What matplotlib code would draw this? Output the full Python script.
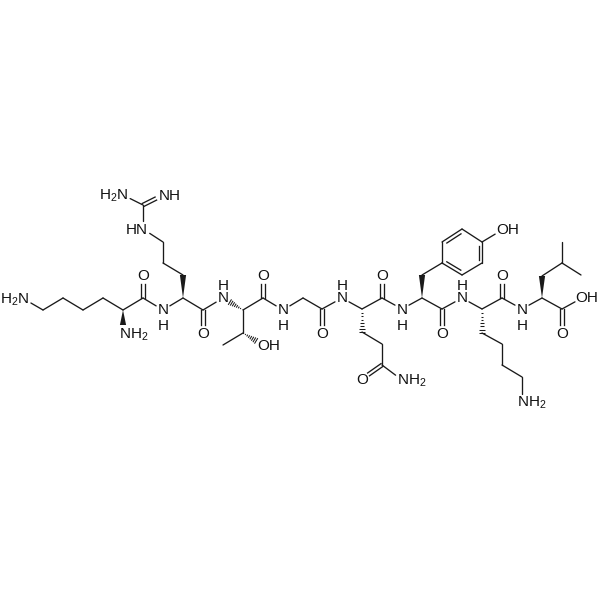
"""
Peptide structure drawing (KRTGQYKL), atoms placed in image pixel coordinates.
"""
import numpy as np
import matplotlib
matplotlib.use("Agg")
import matplotlib.pyplot as plt
from matplotlib.patches import Polygon

plt.rcParams["font.family"] = ["Liberation Sans", "DejaVu Sans"]
plt.rcParams["mathtext.fontset"] = "custom"
plt.rcParams["mathtext.rm"] = "Liberation Sans"
plt.rcParams["mathtext.default"] = "rm"

# atom positions
atom_x = [24, 43, 63, 83, 103, 123, 123, 143, 143, 163, 183, 183, 163, 163, 143, 143, 163, 123,
          203, 203, 223, 243, 263, 263, 283, 243, 223, 263,
          303, 322, 322, 342, 362, 362, 382, 382, 362, 402, 382, 382,
          402, 422, 422, 442, 442, 462, 482, 482, 462, 502,
          442, 442, 462, 482, 482, 502, 502, 522, 522,
          502, 502, 522, 542, 542, 562, 562, 581, 562, 562, 582]
atom_y = [299, 310, 298, 310, 298, 310, 333, 298, 276, 310, 298, 275, 263, 242, 229, 205, 195, 195,
          310, 333, 298, 310, 298, 276, 310, 333, 345, 345,
          298, 309, 333, 298, 309, 332, 344, 365, 379, 380, 298, 276,
          309, 298, 275, 263, 242, 229, 242, 263, 275, 230,
          309, 333, 298, 309, 333, 344, 365, 377, 402,
          298, 276, 309, 298, 276, 263, 242, 275, 309, 333, 298]
hetero = [0, 6, 8, 9, 14, 16, 17, 19, 20, 23, 24, 27, 30, 31, 36, 37, 39, 40, 49, 51, 52,
          58, 60, 61, 68, 69]

bond_a = [0, 1, 2, 3, 4, 5, 5, 7, 7, 9, 10, 11, 12, 13, 14, 15, 15, 10, 18, 18, 21, 21, 22, 22,
          24, 21, 25, 25, 28, 29, 29, 31, 32, 33, 34, 35, 35, 32, 38, 38, 40, 41, 42, 43, 44, 45,
          46, 47, 48, 46, 41, 50, 50, 52, 53, 54, 55, 56, 57, 53, 59, 59, 61, 62, 63, 64, 64, 62, 67, 67]
bond_b = [1, 2, 3, 4, 5, 6, 7, 8, 9, 10, 11, 12, 13, 14, 15, 16, 17, 18, 19, 20, 20, 22, 23, 24,
          28, 25, 26, 27, 29, 30, 31, 32, 33, 34, 35, 36, 37, 38, 39, 40, 41, 42, 43, 44, 45, 46,
          47, 48, 43, 49, 50, 51, 52, 53, 54, 55, 56, 57, 58, 59, 60, 61, 62, 63, 64, 65, 66, 67, 68, 69]
# s single, d double, r ring double, w wedge, h hash
bond_kind = ["s", "s", "s", "s", "s", "w", "s", "d", "s", "s", "w", "s", "s", "s", "s", "d", "s", "s", "d", "s", "h", "s", "d", "s",
             "s", "s", "s", "h", "s", "d", "s", "s", "h", "s", "s", "d", "s", "s", "d", "s", "s", "w", "s", "s", "r", "s",
             "r", "s", "r", "s", "s", "d", "s", "s", "h", "s", "s", "s", "s", "s", "d", "s", "s", "w", "s", "s", "s", "s", "d", "s"]

label_text = ["H$_2$N", "NH$_2$", "N", "H", "N", "H", "H$_2$N", "NH", "HN", "O", "O",
              "N", "H", "O", "OH",
              "N", "H", "O", "N", "H", "O", "O", "NH$_2$",
              "O", "OH", "N", "H", "O", "NH$_2$", "N", "H", "O", "OH"]
label_x = [29, 119, 163, 163, 223, 223, 128, 159, 148, 143, 203,
           283, 283, 263, 257,
           342, 342, 322, 402, 402, 382, 362, 397,
           442, 496, 462, 462, 502, 517, 522, 522, 562, 575]
label_y = [298, 333, 309, 324, 297, 284, 194, 194, 229, 275, 332,
           309, 324, 275, 344,
           297, 284, 332, 308, 324, 275, 378, 379,
           332, 229, 297, 284, 275, 401, 308, 324, 332, 297]
label_ha = ["right", "left", "center", "center", "center", "center", "right", "left", "right", "center", "center",
            "center", "center", "center", "left",
            "center", "center", "center", "center", "center", "center", "center", "left",
            "center", "left", "center", "center", "center", "left", "center", "center", "center", "left"]

LINE = "#1a1a1a"
LW = 0.95


def ends(a, b):
    p = np.array([atom_x[a], atom_y[a]], float)
    q = np.array([atom_x[b], atom_y[b]], float)
    u = (q - p) / np.linalg.norm(q - p)
    if a in hetero:
        p = p + u * 8
    if b in hetero:
        q = q - u * 8
    return p, q, u


def draw_hash(ax, p, q):
    u = q - p
    n = np.array([-u[1], u[0]]) / np.linalg.norm(u)
    for t in np.linspace(0.05, 1, 8):
        c = p + u * t
        w = 3.2 * t
        ax.plot([c[0] - n[0] * w, c[0] + n[0] * w], [c[1] - n[1] * w, c[1] + n[1] * w],
                color=LINE, lw=0.75, solid_capstyle="butt")


fig = plt.figure(figsize=(6, 6), dpi=100)
ax = fig.add_axes([0, 0, 1, 1])
ax.set_xlim(0, 600)
ax.set_ylim(600, 0)
ax.axis("off")

for a, b, kind in zip(bond_a, bond_b, bond_kind):
    p, q, u = ends(a, b)
    n = np.array([-u[1], u[0]])
    if kind == "s":
        ax.plot([p[0], q[0]], [p[1], q[1]], color=LINE, lw=LW, solid_capstyle="round")
    elif kind == "d":
        for s in (-1.7, 1.7):
            ax.plot([p[0] + n[0] * s, q[0] + n[0] * s], [p[1] + n[1] * s, q[1] + n[1] * s],
                    color=LINE, lw=LW)
    elif kind == "r":
        ax.plot([p[0], q[0]], [p[1], q[1]], color=LINE, lw=LW, solid_capstyle="round")
        mid = np.array([462, 252.5])
        side = 1 if np.dot(mid - p, n) > 0 else -1
        p2 = p + u * 3.5 + n * side * 3.5
        q2 = q - u * 3.5 + n * side * 3.5
        ax.plot([p2[0], q2[0]], [p2[1], q2[1]], color=LINE, lw=LW)
    elif kind == "w":
        ax.add_patch(Polygon([p, q + n * 3.1, q - n * 3.1], closed=True, color=LINE, lw=0))
    elif kind == "h":
        draw_hash(ax, p, q)

for s, x, y, ha in zip(label_text, label_x, label_y, label_ha):
    ax.text(x, y, s, fontsize=11, color="#111111", ha=ha, va="center_baseline")

fig.savefig("out.png", dpi=100)
plt.close(fig)
print("Saved: out.png")
